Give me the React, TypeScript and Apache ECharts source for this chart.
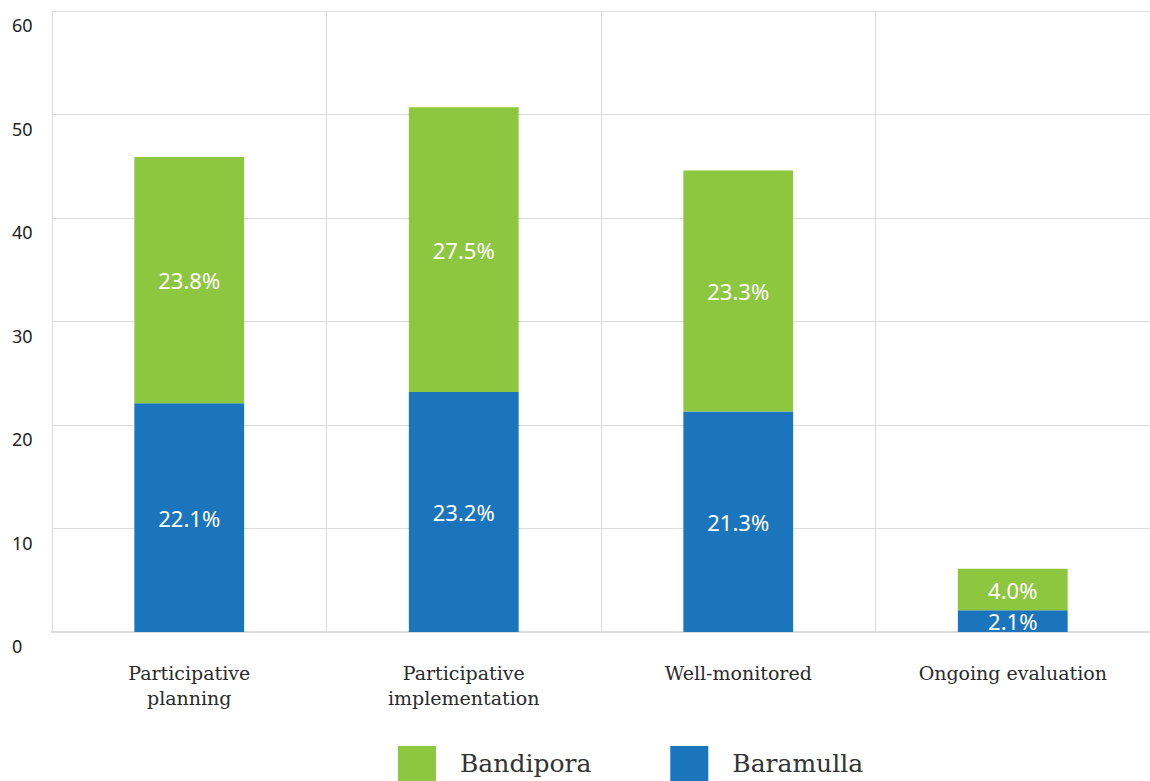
import React, { useEffect, useRef } from "react";
import * as echarts from "echarts";

const categories = ["Participative\nplanning", "Participative\nimplementation", "Well-monitored", "Ongoing evaluation"];
const baramulla = [22.1, 23.2, 21.3, 2.1];
const bandipora = [23.8, 27.5, 23.3, 4.0];
const yTicks = { min: 0, max: 60, interval: 10 };

export default function App() {
  const ref = useRef<HTMLDivElement>(null);
  useEffect(() => {
    const chart = echarts.init(ref.current!, null, { renderer: "svg" });
    const label = {
      show: true,
      position: "inside",
      color: "#ffffff",
      fontSize: 22,
      fontFamily: "Noto Sans",
      formatter: (p: any) => Number(p.value).toFixed(1) + "%",
    };
    chart.setOption({
      animation: false,
      grid: { left: 52, top: 11, width: 1104, bottom: 149, containLabel: false },
      legend: {
        data: ["Bandipora", "Baramulla"],
        bottom: 0,
        left: 398,
        padding: 0,
        itemWidth: 38,
        itemHeight: 35,
        itemGap: 79,
        icon: "rect",
        textStyle: { fontSize: 25, fontFamily: "DejaVu Serif", color: "#333", padding: [0, 0, 0, 19] },
      },
      xAxis: {
        type: "category",
        data: categories,
        axisLine: { lineStyle: { color: "#dcdcdc", width: 2 } },
        axisTick: { show: false },
        splitLine: { show: true, lineStyle: { color: "#dcdcdc", width: 1 } },
        axisLabel: {
          color: "#2a2a2a",
          fontSize: 19,
          fontFamily: "DejaVu Serif",
          lineHeight: 25,
          margin: 28,
        },
      },
      yAxis: {
        type: "value",
        min: yTicks.min,
        max: yTicks.max,
        interval: yTicks.interval,
        axisLine: { show: false },
        axisTick: { show: false },
        splitLine: { lineStyle: { color: "#dcdcdc", width: 1 } },
        axisLabel: {
          color: "#222",
          fontSize: 18,
          fontFamily: "Noto Sans",
          align: "left",
          margin: 40,
          verticalAlign: "top",
          padding: [5, 0, 0, 0],
        },
      },
      series: [
        {
          name: "Baramulla",
          type: "bar",
          stack: "total",
          data: baramulla,
          barWidth: "40%",
          itemStyle: { color: "#1b75bc" },
          label,
        },
        {
          name: "Bandipora",
          type: "bar",
          stack: "total",
          data: bandipora,
          barWidth: "40%",
          itemStyle: { color: "#8dc63f" },
          label,
        },
      ],
    });
    return () => chart.dispose();
  }, []);
  return <div ref={ref} style={{ position: "absolute", left: 0, top: 0, width: 1150, height: 781 }} />;
}
